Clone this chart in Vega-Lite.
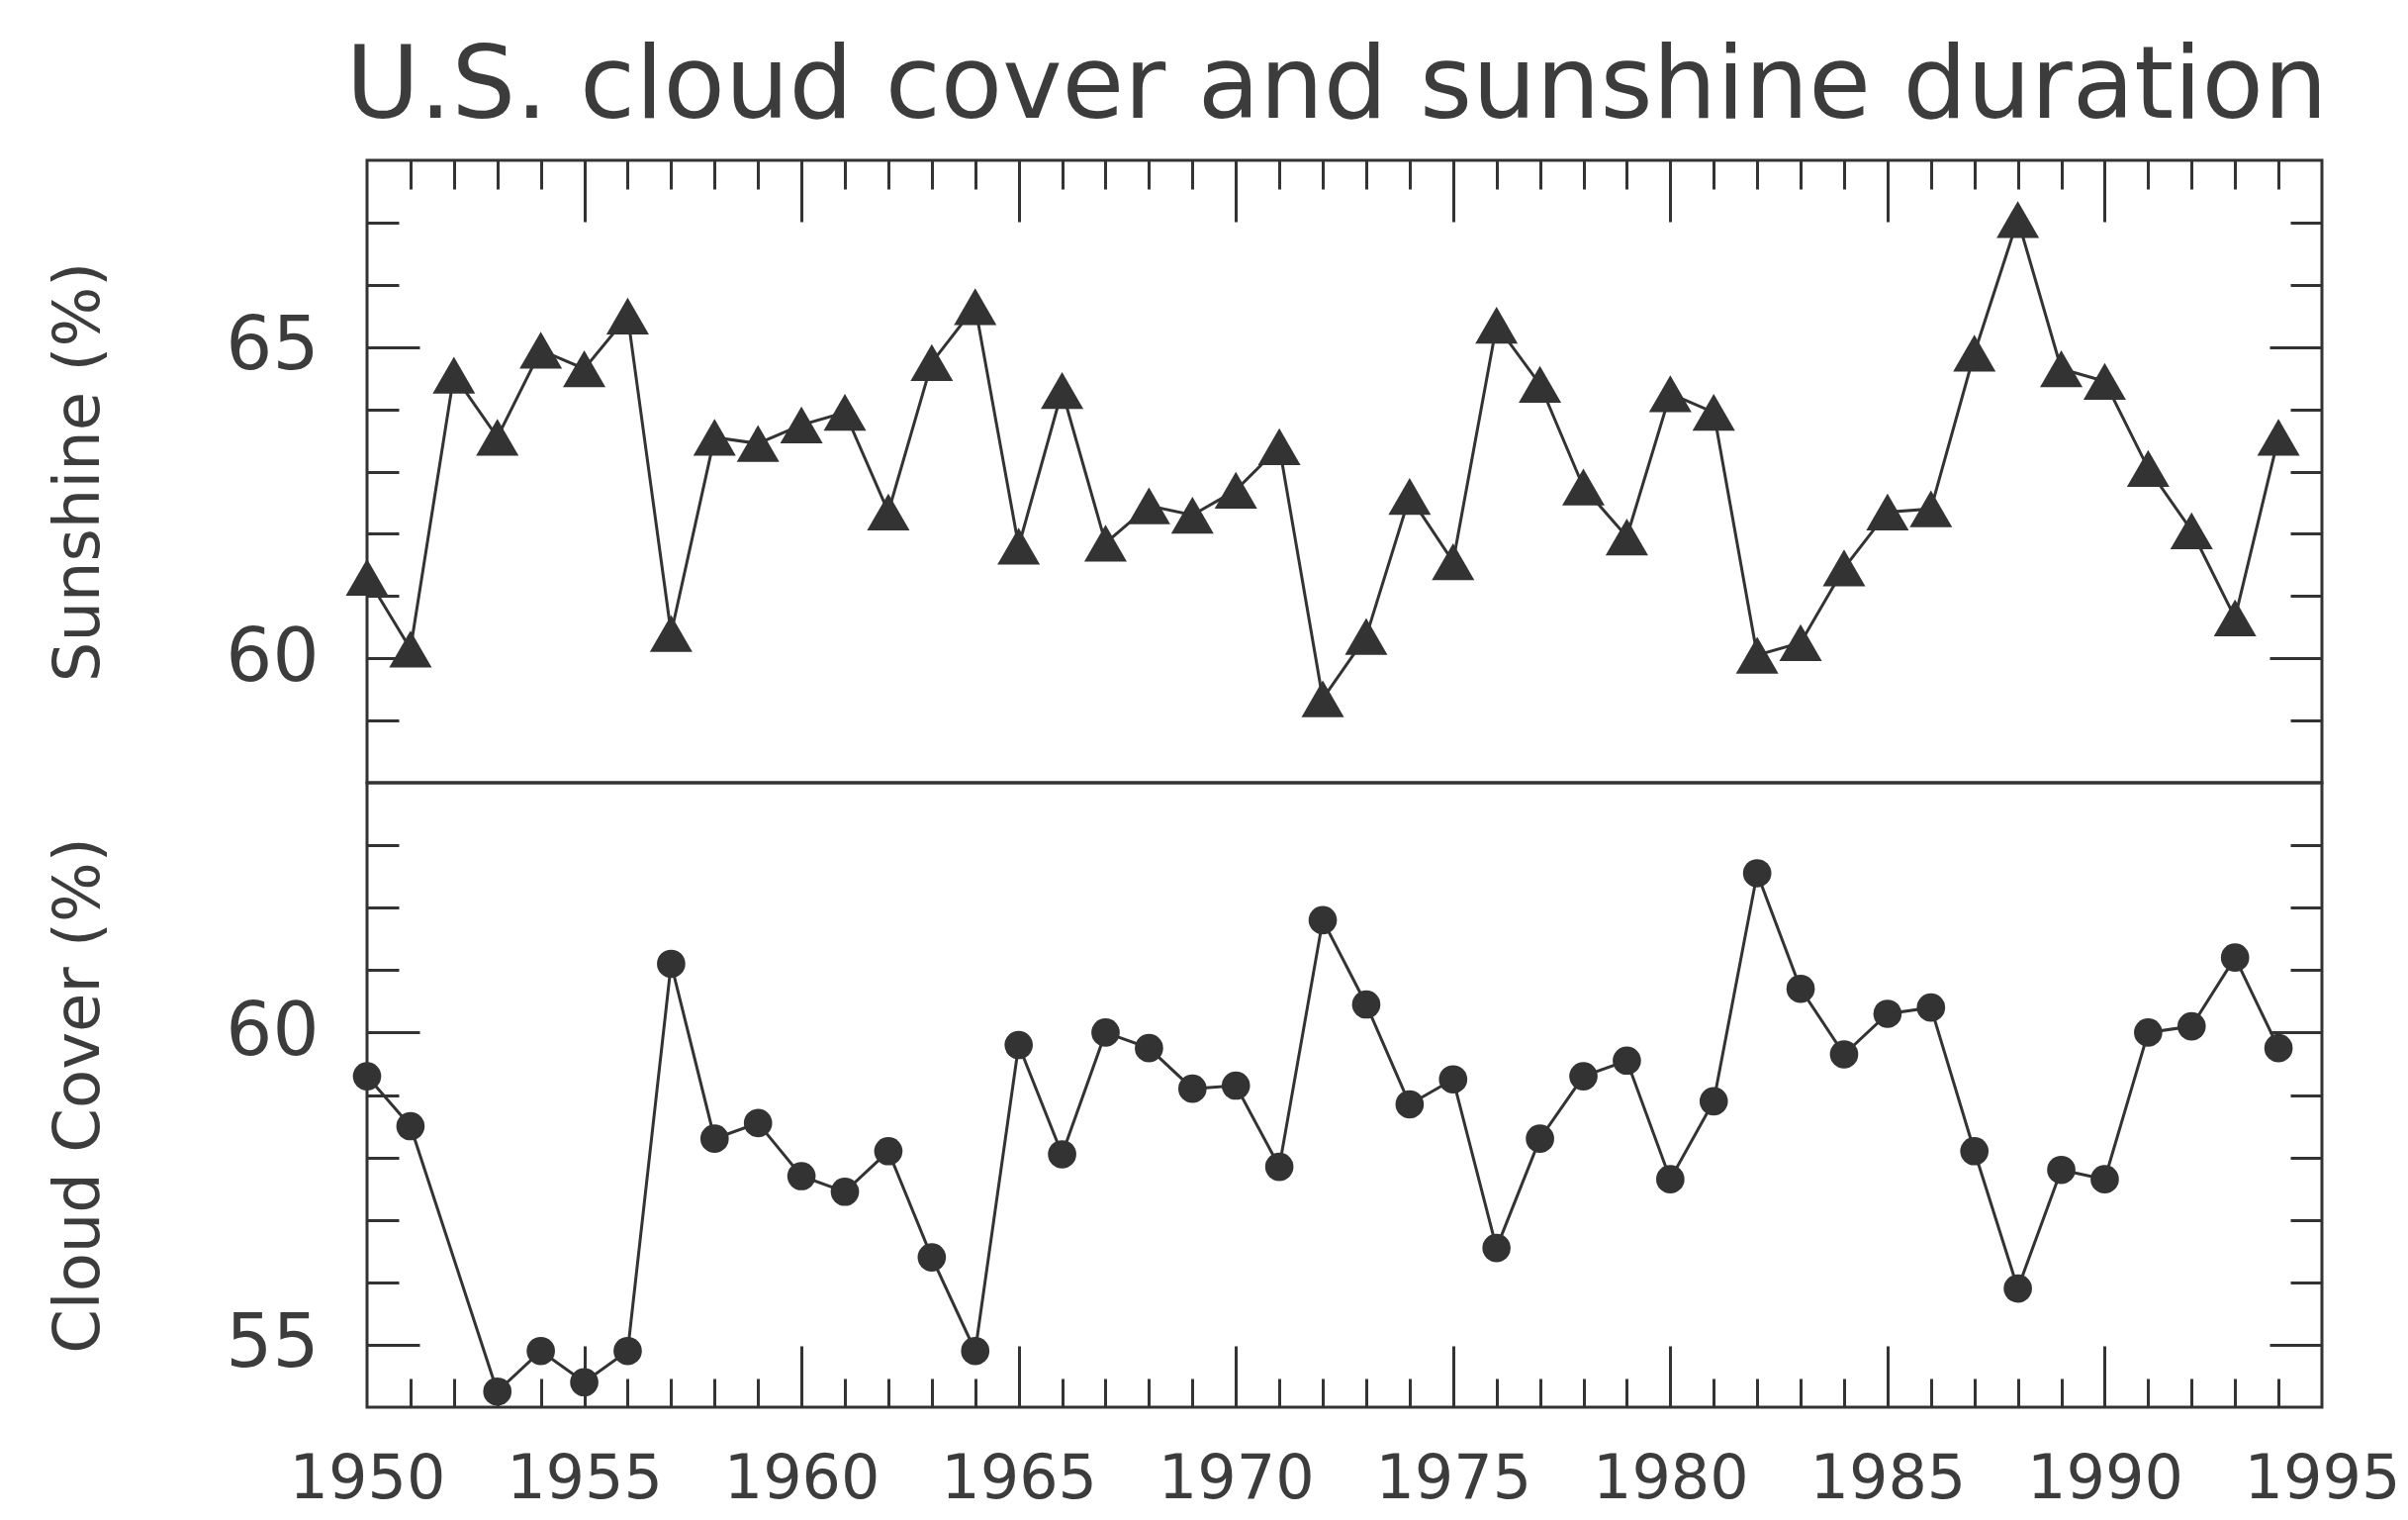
{
  "$schema": "https://vega.github.io/schema/vega-lite/v6.json",
  "padding": {"left": 47, "top": 37, "right": 0, "bottom": 0},
  "background": "white",
  "title": {"text": "U.S. cloud cover and sunshine duration", "font": "DejaVu Sans", "fontSize": 102, "fontWeight": "normal", "color": "#3c3c3c", "anchor": "middle", "frame": "group", "baseline": "alphabetic", "offset": -62, "dx": -8},
  "data": {"values": [
    {"year": 1950, "sunshine": 61.3, "cloud": 59.3},
    {"year": 1951, "sunshine": 60.15, "cloud": 58.5},
    {"year": 1952, "sunshine": 64.55},
    {"year": 1953, "sunshine": 63.55, "cloud": 54.25},
    {"year": 1954, "sunshine": 64.95, "cloud": 54.9},
    {"year": 1955, "sunshine": 64.65, "cloud": 54.4},
    {"year": 1956, "sunshine": 65.5, "cloud": 54.9},
    {"year": 1957, "sunshine": 60.4, "cloud": 61.1},
    {"year": 1958, "sunshine": 63.55, "cloud": 58.3},
    {"year": 1959, "sunshine": 63.45, "cloud": 58.55},
    {"year": 1960, "sunshine": 63.75, "cloud": 57.7},
    {"year": 1961, "sunshine": 63.95, "cloud": 57.45},
    {"year": 1962, "sunshine": 62.35, "cloud": 58.1},
    {"year": 1963, "sunshine": 64.75, "cloud": 56.4},
    {"year": 1964, "sunshine": 65.65, "cloud": 54.9},
    {"year": 1965, "sunshine": 61.8, "cloud": 59.8},
    {"year": 1966, "sunshine": 64.3, "cloud": 58.05},
    {"year": 1967, "sunshine": 61.85, "cloud": 60.0},
    {"year": 1968, "sunshine": 62.45, "cloud": 59.75},
    {"year": 1969, "sunshine": 62.3, "cloud": 59.1},
    {"year": 1970, "sunshine": 62.7, "cloud": 59.15},
    {"year": 1971, "sunshine": 63.4, "cloud": 57.85},
    {"year": 1972, "sunshine": 59.35, "cloud": 61.8},
    {"year": 1973, "sunshine": 60.35, "cloud": 60.45},
    {"year": 1974, "sunshine": 62.6, "cloud": 58.85},
    {"year": 1975, "sunshine": 61.55, "cloud": 59.25},
    {"year": 1976, "sunshine": 65.35, "cloud": 56.55},
    {"year": 1977, "sunshine": 64.4, "cloud": 58.3},
    {"year": 1978, "sunshine": 62.75, "cloud": 59.3},
    {"year": 1979, "sunshine": 61.95, "cloud": 59.55},
    {"year": 1980, "sunshine": 64.25, "cloud": 57.65},
    {"year": 1981, "sunshine": 63.95, "cloud": 58.9},
    {"year": 1982, "sunshine": 60.05, "cloud": 62.55},
    {"year": 1983, "sunshine": 60.25, "cloud": 60.7},
    {"year": 1984, "sunshine": 61.45, "cloud": 59.65},
    {"year": 1985, "sunshine": 62.35, "cloud": 60.3},
    {"year": 1986, "sunshine": 62.4, "cloud": 60.4},
    {"year": 1987, "sunshine": 64.9, "cloud": 58.1},
    {"year": 1988, "sunshine": 67.05, "cloud": 55.9},
    {"year": 1989, "sunshine": 64.65, "cloud": 57.8},
    {"year": 1990, "sunshine": 64.45, "cloud": 57.65},
    {"year": 1991, "sunshine": 63.05, "cloud": 60.0},
    {"year": 1992, "sunshine": 62.05, "cloud": 60.1},
    {"year": 1993, "sunshine": 60.65, "cloud": 61.2},
    {"year": 1994, "sunshine": 63.55, "cloud": 59.75}
  ]},
  "spacing": 0,
  "bounds": "flush",
  "vconcat": [
    {
      "width": 1976,
      "height": 629,
      "layer": [
        {
          "mark": {"type": "line", "color": "#333333", "strokeWidth": 3},
          "encoding": {
            "x": {"field": "year", "type": "quantitative", "scale": {"domain": [1950, 1995], "nice": false, "zero": false},
              "axis": {"orient": "top", "values": [1951,1952,1953,1954,1955,1956,1957,1958,1959,1960,1961,1962,1963,1964,1965,1966,1967,1968,1969,1970,1971,1972,1973,1974,1975,1976,1977,1978,1979,1980,1981,1982,1983,1984,1985,1986,1987,1988,1989,1990,1991,1992,1993,1994],
                "labels": false, "domain": false, "title": null,
                "tickSize": {"condition": {"test": "datum.value % 5 === 0", "value": -62}, "value": -29}}},
            "y": {"field": "sunshine", "type": "quantitative", "scale": {"domain": [58, 68], "nice": false, "zero": false},
              "axis": {"orient": "left", "values": [60, 65], "ticks": false, "domain": false, "labelFontSize": 74, "labelPadding": 49, "title": "Sunshine (%)", "titleFontSize": 64, "titlePadding": 115}}
          }
        },
        {
          "mark": {"type": "point", "shape": "triangle-up", "filled": true, "size": 1850, "color": "#333333", "opacity": 1},
          "encoding": {
            "x": {"field": "year", "type": "quantitative", "axis": null},
            "y": {"field": "sunshine", "type": "quantitative",
              "axis": {"orient": "left", "values": [59,60,61,62,63,64,65,66,67], "labels": false, "domain": false, "title": null,
                "tickSize": {"condition": {"test": "datum.value % 5 === 0", "value": -53}, "value": -32}}}
          }
        },
        {
          "mark": {"type": "point", "opacity": 0},
          "encoding": {
            "x": {"field": "year", "type": "quantitative", "axis": null},
            "y": {"field": "sunshine", "type": "quantitative",
              "axis": {"orient": "right", "values": [59,60,61,62,63,64,65,66,67], "labels": false, "domain": false, "title": null,
                "tickSize": {"condition": {"test": "datum.value % 5 === 0", "value": -53}, "value": -32}}}
          }
        }
      ],
      "resolve": {"axis": {"x": "independent", "y": "independent"}}
    },
    {
      "width": 1976,
      "height": 631,
      "transform": [{"filter": "isValid(datum.cloud)"}],
      "layer": [
        {
          "mark": {"type": "line", "color": "#333333", "strokeWidth": 3},
          "encoding": {
            "x": {"field": "year", "type": "quantitative", "scale": {"domain": [1950, 1995], "nice": false, "zero": false},
              "axis": {"orient": "bottom", "values": [1951,1952,1953,1954,1955,1956,1957,1958,1959,1960,1961,1962,1963,1964,1965,1966,1967,1968,1969,1970,1971,1972,1973,1974,1975,1976,1977,1978,1979,1980,1981,1982,1983,1984,1985,1986,1987,1988,1989,1990,1991,1992,1993,1994],
                "labels": false, "domain": false, "title": null,
                "tickSize": {"condition": {"test": "datum.value % 5 === 0", "value": -62}, "value": -29}}},
            "y": {"field": "cloud", "type": "quantitative", "scale": {"domain": [54, 64], "nice": false, "zero": false},
              "axis": {"orient": "left", "values": [55, 60], "ticks": false, "domain": false, "labelFontSize": 74, "labelPadding": 49, "title": "Cloud Cover (%)", "titleFontSize": 64, "titlePadding": 115}}
          }
        },
        {
          "mark": {"type": "point", "shape": "circle", "filled": true, "size": 820, "color": "#333333", "opacity": 1},
          "encoding": {
            "x": {"field": "year", "type": "quantitative",
              "axis": {"orient": "bottom", "values": [1950,1955,1960,1965,1970,1975,1980,1985,1990,1995], "format": "d", "ticks": false, "domain": false, "title": null, "labelFontSize": 62, "labelPadding": 42, "labelFlush": false, "labelOverlap": false, "labelBound": false}},
            "y": {"field": "cloud", "type": "quantitative",
              "axis": {"orient": "left", "values": [55,56,57,58,59,60,61,62,63], "labels": false, "domain": false, "title": null,
                "tickSize": {"condition": {"test": "datum.value % 5 === 0", "value": -53}, "value": -32}}}
          }
        },
        {
          "mark": {"type": "point", "opacity": 0},
          "encoding": {
            "x": {"field": "year", "type": "quantitative", "axis": null},
            "y": {"field": "cloud", "type": "quantitative",
              "axis": {"orient": "right", "values": [55,56,57,58,59,60,61,62,63], "labels": false, "domain": false, "title": null,
                "tickSize": {"condition": {"test": "datum.value % 5 === 0", "value": -53}, "value": -32}}}
          }
        }
      ],
      "resolve": {"axis": {"x": "independent", "y": "independent"}}
    }
  ],
  "config": {
    "view": {"stroke": "#333333", "strokeWidth": 3},
    "axis": {"grid": false, "tickColor": "#333333", "tickWidth": 3, "labelFont": "DejaVu Sans", "labelColor": "#3c3c3c", "titleFont": "DejaVu Sans", "titleFontWeight": "normal", "titleColor": "#3c3c3c"}
  }
}
